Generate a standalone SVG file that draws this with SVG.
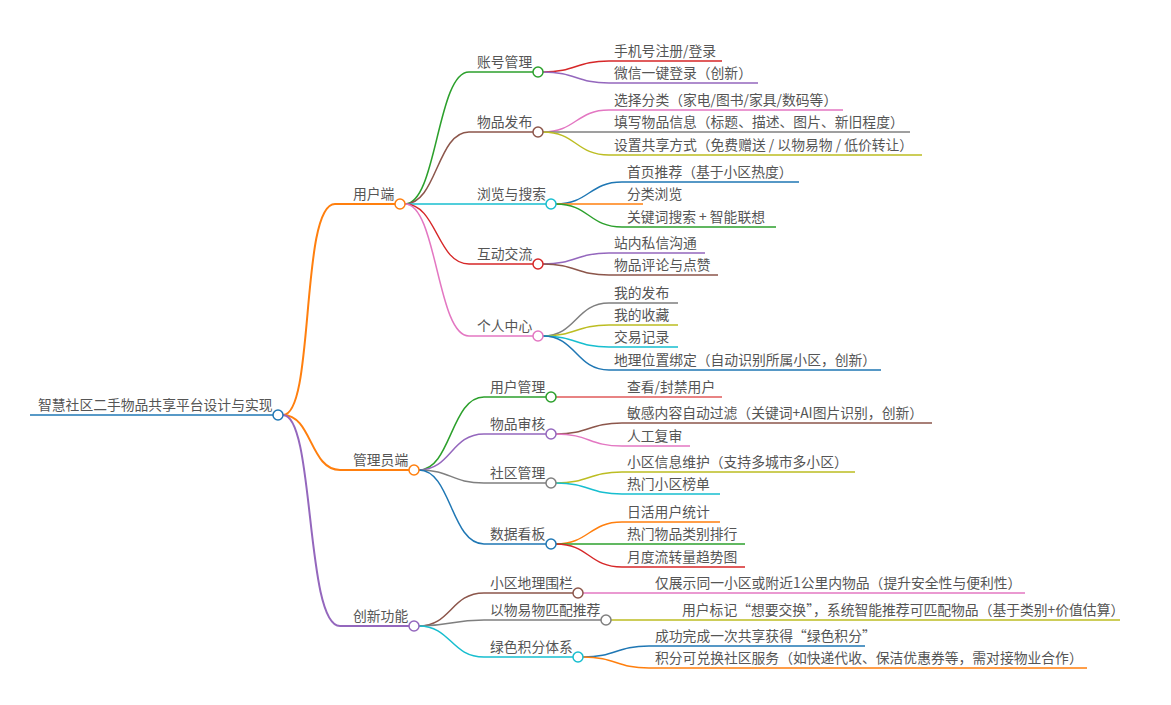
<svg xmlns="http://www.w3.org/2000/svg" width="1171" height="705" viewBox="0 0 1171 705">
<style>
text{font-family:"Noto Sans CJK SC","Liberation Sans",sans-serif;font-size:13.8px;fill:#555}
path{fill:none;stroke-width:1.5}
.b1{stroke-width:2}
circle{fill:#fff;stroke-width:1.5}
</style>
<rect width="1171" height="705" fill="#fff"/>
<g id="connectors">
<path class="b1" stroke="#ff7f0e" d="M283 415 C315 415 300 204 335 204 H395"/>
<path class="b1" stroke="#ff7f0e" d="M283 415 C312 415 310 470 340 470 H409"/>
<path class="b1" stroke="#9467bd" d="M283 415 C315 415 305 626 340 626 H409"/>
<path stroke="#2ca02c" d="M405 204 C437 204 437 72 469 72 H533"/>
<path stroke="#8c564b" d="M405 204 C437 204 437 132 469 132 H533"/>
<path stroke="#17becf" d="M405 204 H546"/>
<path stroke="#d62728" d="M405 204 C437 204 437 264 469 264 H533"/>
<path stroke="#e377c2" d="M405 204 C437 204 437 336 469 336 H533"/>
<path stroke="#d62728" d="M543 72 C576 72 576 61 609 61 H722"/>
<path stroke="#9467bd" d="M543 72 C576 72 576 83 609 83 H758"/>
<path stroke="#e377c2" d="M543 132 C576 132 576 110 609 110 H843"/>
<path stroke="#7f7f7f" d="M543 132 H910"/>
<path stroke="#bcbd22" d="M543 132 C576 132 576 155 609 155 H922"/>
<path stroke="#1f77b4" d="M556 204 C589 204 589 182 622 182 H799"/>
<path stroke="#ff7f0e" d="M556 204 H643"/>
<path stroke="#2ca02c" d="M556 204 C589 204 589 227 622 227 H776"/>
<path stroke="#9467bd" d="M543 264 C576 264 576 253 609 253 H705"/>
<path stroke="#8c564b" d="M543 264 C576 264 576 275 609 275 H718"/>
<path stroke="#7f7f7f" d="M543 336 C576 336 576 303 609 303 H678"/>
<path stroke="#bcbd22" d="M543 336 C576 336 576 325 609 325 H678"/>
<path stroke="#17becf" d="M543 336 C576 336 576 347 609 347 H678"/>
<path stroke="#1f77b4" d="M543 336 C576 336 576 370 609 370 H881"/>
<path stroke="#2ca02c" d="M419 470 C451 470 451 397 484 397 H546"/>
<path stroke="#9467bd" d="M419 470 C451 470 451 434 484 434 H546"/>
<path stroke="#7f7f7f" d="M419 470 C451 470 451 483 484 483 H546"/>
<path stroke="#1f77b4" d="M419 470 C451 470 451 544 484 544 H546"/>
<path stroke="#e05a5a" d="M556 397 H722"/>
<path stroke="#8c564b" d="M556 434 C589 434 589 423 622 423 H932"/>
<path stroke="#e377c2" d="M556 434 C589 434 589 446 622 446 H690"/>
<path stroke="#bcbd22" d="M556 483 C589 483 589 472 622 472 H855"/>
<path stroke="#17becf" d="M556 483 C589 483 589 494 622 494 H720"/>
<path stroke="#ff7f0e" d="M556 544 C589 544 589 522 622 522 H720"/>
<path stroke="#2ca02c" d="M556 544 H745"/>
<path stroke="#d62728" d="M556 544 C589 544 589 567 622 567 H745"/>
<path stroke="#8c564b" d="M419 626 C451 626 451 593 484 593 H573"/>
<path stroke="#7f7f7f" d="M419 626 C451 626 451 620 484 620 H601"/>
<path stroke="#17becf" d="M419 626 C451 626 451 657 484 657 H573"/>
<path stroke="#e377c2" d="M583 593 H1025"/>
<path stroke="#bcbd22" d="M611 620 H1120"/>
<path stroke="#1f77b4" d="M583 657 C616 657 616 646 649 646 H865"/>
<path stroke="#ff7f0e" d="M583 657 C616 657 616 668 649 668 H1087"/>
<path stroke="#1f77b4" stroke-width="3" d="M30 415 H273"/>
</g>
<g id="root"><text x="38" y="410">智慧社区二手物品共享平台设计与实现</text><circle cx="278" cy="415" r="5" stroke="#1f77b4"/></g>
<g id="n-user"><text x="353" y="199">用户端</text><circle cx="400" cy="204" r="5" stroke="#ff7f0e"/></g>
<g id="n-admin"><text x="353" y="465">管理员端</text><circle cx="414" cy="470" r="5" stroke="#ff7f0e"/></g>
<g id="n-innov"><text x="353" y="621">创新功能</text><circle cx="414" cy="626" r="5" stroke="#9467bd"/></g>
<g id="n-acct"><text x="477" y="67">账号管理</text><circle cx="538" cy="72" r="5" stroke="#2ca02c"/></g>
<g id="n-pub"><text x="477" y="127">物品发布</text><circle cx="538" cy="132" r="5" stroke="#8c564b"/></g>
<g id="n-browse"><text x="477" y="199">浏览与搜索</text><circle cx="551" cy="204" r="5" stroke="#17becf"/></g>
<g id="n-inter"><text x="477" y="259">互动交流</text><circle cx="538" cy="264" r="5" stroke="#d62728"/></g>
<g id="n-me"><text x="477" y="331">个人中心</text><circle cx="538" cy="336" r="5" stroke="#e377c2"/></g>
<g id="leaves-user">
<text x="614" y="56">手机号注册/登录</text>
<text x="614" y="78">微信一键登录（创新）</text>
<text x="614" y="105">选择分类（家电/图书/家具/数码等）</text>
<text x="614" y="127">填写物品信息（标题、描述、图片、新旧程度）</text>
<text x="614" y="150">设置共享方式（免费赠送 / 以物易物 / 低价转让）</text>
<text x="627" y="177">首页推荐（基于小区热度）</text>
<text x="627" y="199">分类浏览</text>
<text x="627" y="222">关键词搜索 + 智能联想</text>
<text x="614" y="248">站内私信沟通</text>
<text x="614" y="270">物品评论与点赞</text>
<text x="614" y="298">我的发布</text>
<text x="614" y="320">我的收藏</text>
<text x="614" y="342">交易记录</text>
<text x="614" y="365">地理位置绑定（自动识别所属小区，创新）</text>
</g>
<g id="n-um"><text x="490" y="392">用户管理</text><circle cx="551" cy="397" r="5" stroke="#2ca02c"/></g>
<g id="n-audit"><text x="490" y="429">物品审核</text><circle cx="551" cy="434" r="5" stroke="#9467bd"/></g>
<g id="n-comm"><text x="490" y="478">社区管理</text><circle cx="551" cy="483" r="5" stroke="#7f7f7f"/></g>
<g id="n-dash"><text x="490" y="539">数据看板</text><circle cx="551" cy="544" r="5" stroke="#1f77b4"/></g>
<g id="leaves-admin">
<text x="627" y="392">查看/封禁用户</text>
<text x="627" y="418">敏感内容自动过滤（关键词+AI图片识别，创新）</text>
<text x="627" y="441">人工复审</text>
<text x="627" y="467">小区信息维护（支持多城市多小区）</text>
<text x="627" y="489">热门小区榜单</text>
<text x="627" y="517">日活用户统计</text>
<text x="627" y="539">热门物品类别排行</text>
<text x="627" y="562">月度流转量趋势图</text>
</g>
<g id="n-geo"><text x="490" y="588">小区地理围栏</text><circle cx="578" cy="593" r="5" stroke="#8c564b"/></g>
<g id="n-match"><text x="490" y="615">以物易物匹配推荐</text><circle cx="606" cy="620" r="5" stroke="#7f7f7f"/></g>
<g id="n-green"><text x="490" y="652">绿色积分体系</text><circle cx="578" cy="657" r="5" stroke="#17becf"/></g>
<g id="leaves-innov">
<text x="655" y="588">仅展示同一小区或附近1公里内物品（提升安全性与便利性）</text>
<text x="682" y="615">用户标记“想要交换”，系统智能推荐可匹配物品（基于类别+价值估算）</text>
<text x="655" y="641">成功完成一次共享获得“绿色积分”</text>
<text x="655" y="663">积分可兑换社区服务（如快递代收、保洁优惠券等，需对接物业合作）</text>
</g>
</svg>
